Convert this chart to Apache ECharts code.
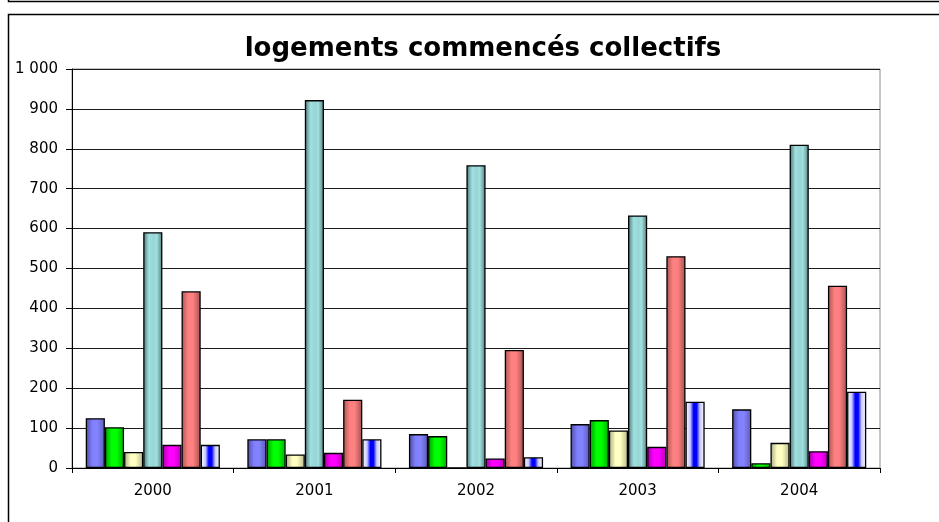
<!DOCTYPE html>
<html>
<head>
<meta charset="utf-8">
<script src="https://cdn.jsdelivr.net/npm/echarts@6/dist/echarts.min.js"></script>
<style>
html,body{margin:0;padding:0;background:#fff;}
#chart{width:939px;height:522px;}
</style>
</head>
<body>
<div id="chart"></div>
<script>
var categories = ['2000', '2001', '2002', '2003', '2004'];
var serie1 = [125, 72, 85, 110, 147];
var serie2 = [102, 72, 80, 120, 12];
var serie3 = [40, 34, 0, 94, 63];
var serie4 = [591, 922, 759, 633, 810];
var serie5 = [58, 38, 24, 53, 42];
var serie6 = [443, 171, 296, 531, 457];
var serie7 = [58, 72, 27, 166, 191];
var seriesNames = ['Série 1', 'Série 2', 'Série 3', 'Série 4', 'Série 5', 'Série 6', 'Série 7'];
var yTicks = [0, 100, 200, 300, 400, 500, 600, 700, 800, 900, 1000];

function grad(stops) {
  return {
    type: 'linear', x: 0, y: 0, x2: 1, y2: 0,
    colorStops: stops.map(function (s) { return { offset: s[0], color: s[1] }; })
  };
}
var fills = [
  grad([[0, '#4c4ca0'], [0.35, '#8080ff'], [0.6, '#8484ff'], [1, '#5a5ab8']]),
  grad([[0, '#009a00'], [0.35, '#00ff00'], [0.6, '#00ff00'], [1, '#00b000']]),
  grad([[0, '#a8a880'], [0.35, '#ffffc4'], [0.6, '#ffffc0'], [1, '#b8b890']]),
  grad([[0, '#4a7474'], [0.3, '#a0e0e0'], [0.55, '#98d4d4'], [0.7, '#a0e0e0'], [1, '#527c7c']]),
  grad([[0, '#a800a8'], [0.35, '#ff00ff'], [0.6, '#ff00ff'], [1, '#b800b8']]),
  grad([[0, '#a85454'], [0.35, '#ff8080'], [0.6, '#ff8080'], [1, '#a05050']]),
  grad([[0, '#ffffff'], [0.25, '#c8c8ff'], [0.42, '#0000ff'], [0.58, '#0000ff'], [0.75, '#c8c8ff'], [1, '#ffffff']])
];
var data = [serie1, serie2, serie3, serie4, serie5, serie6, serie7];

var chart = echarts.init(document.getElementById('chart'), null, { renderer: 'canvas' });
var series = data.map(function (d, i) {
  return {
    name: seriesNames[i],
    type: 'bar',
    data: d,
    barGap: '0%',
    barCategoryGap: '17%',
    itemStyle: { color: fills[i], borderColor: '#000', borderWidth: 1.3 },
    emphasis: { disabled: true }
  };
});

chart.setOption({
  animation: false,
  backgroundColor: '#fff',
  title: {
    text: 'logements commencés collectifs',
    left: 478, textAlign: 'center', top: 31,
    textStyle: { fontFamily: 'DejaVu Sans', fontSize: 26, fontWeight: 'bold', color: '#000' }
  },
  grid: { left: 72, right: 59, top: 69, bottom: 54, show: true, borderColor: '#8c8c8c', borderWidth: 1, backgroundColor: 'transparent' },
  xAxis: {
    type: 'category',
    data: categories,
    axisLine: { lineStyle: { color: '#000', width: 1 } },
    axisTick: { show: true, alignWithLabel: false, length: 5, lineStyle: { color: '#000' } },
    axisLabel: { fontFamily: 'DejaVu Sans', fontSize: 15, color: '#000', margin: 16 }
  },
  yAxis: {
    type: 'value',
    min: yTicks[0], max: yTicks[yTicks.length - 1], interval: 100,
    axisLine: { show: true, lineStyle: { color: '#000', width: 1 } },
    axisTick: { show: true, length: 6, lineStyle: { color: '#000' } },
    splitLine: { show: true, lineStyle: { color: '#1a1a1a', width: 1 } },
    axisLabel: {
      fontFamily: 'DejaVu Sans', fontSize: 15, color: '#000', margin: 14,
      formatter: function (v) { return String(v).replace(/\B(?=(\d{3})+(?!\d))/g, ' '); }
    }
  },
  graphic: [
    { type: 'polyline', shape: { points: [[8.5, 0], [8.5, 1.5], [939, 1.5]] }, style: { stroke: '#000', lineWidth: 1.5, fill: null } },
    { type: 'polyline', shape: { points: [[8.5, 522], [8.5, 14.5], [939, 14.5]] }, style: { stroke: '#000', lineWidth: 1.5, fill: null } }
  ],
  series: series
});
</script>
</body>
</html>
